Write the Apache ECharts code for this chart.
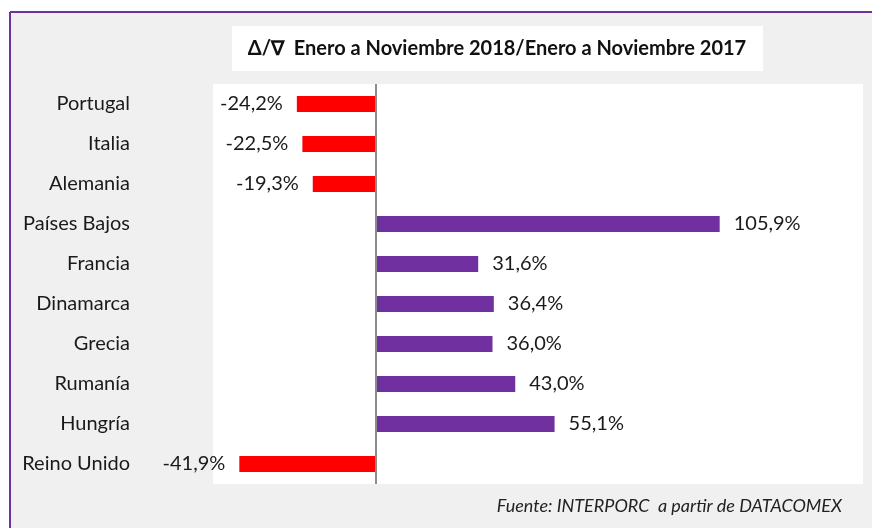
<!DOCTYPE html>
<html>
<head>
<meta charset="utf-8">
<script src="https://cdn.jsdelivr.net/npm/echarts@6/dist/echarts.min.js"></script>
<style>
  html, body { margin: 0; padding: 0; background: #ffffff; }
  #chart { width: 872px; height: 528px; }
</style>
</head>
<body>
<div id="chart"></div>
<script>
// Variación interanual por país (%)
const countries = ['Portugal', 'Italia', 'Alemania', 'Países Bajos', 'Francia',
                   'Dinamarca', 'Grecia', 'Rumanía', 'Hungría', 'Reino Unido'];
const changes = [-24.2, -22.5, -19.3, 105.9, 31.6, 36.4, 36.0, 43.0, 55.1, -41.9];
const titleText = 'Δ/∇  Enero a Noviembre 2018/Enero a Noviembre 2017';
const sourceText = 'Fuente: INTERPORC  a partir de DATACOMEX';

const RED = '#ff0000';
const PURPLE = '#7030a0';
const FONT = 'Lato, "Open Sans", sans-serif';

const fmt = v => v.toFixed(1).replace('.', ',') + '%';

const chart = echarts.init(document.getElementById('chart'));

chart.setOption({
  backgroundColor: '#ffffff',
  animation: false,
  graphic: [
    // panel background with purple frame
    { type: 'rect', z: -10, shape: { x: 11, y: 13, width: 880, height: 540 },
      style: { fill: '#f0f0f0', stroke: null } },
    { type: 'line', z: -9, shape: { x1: 10, y1: 12, x2: 872, y2: 12 },
      style: { stroke: PURPLE, lineWidth: 2 } },
    { type: 'line', z: -9, shape: { x1: 10, y1: 12, x2: 10, y2: 528 },
      style: { stroke: PURPLE, lineWidth: 2 } },
    // title box
    { type: 'rect', z: -8, shape: { x: 232, y: 26, width: 531, height: 45 },
      style: { fill: '#ffffff', stroke: null } },
    { type: 'text', z: 10, x: 497, y: 49,
      style: { text: titleText, align: 'center', verticalAlign: 'middle',
               font: 'bold 20px ' + FONT, fill: '#111' } },
    // source note
    { type: 'text', z: 10, x: 842, y: 506,
      style: { text: sourceText, align: 'right', verticalAlign: 'middle',
               font: 'italic 18px ' + FONT, fill: '#222' } }
  ],
  grid: {
    left: 213, right: 9, top: 84, height: 400,
    show: true, backgroundColor: '#ffffff', borderWidth: 0
  },
  xAxis: {
    type: 'value', min: -50, max: 150,
    show: false
  },
  yAxis: {
    type: 'category', data: countries, inverse: true,
    axisLine: { show: false, onZero: false },
    axisTick: { show: false },
    axisLabel: { margin: 83, color: '#1a1a1a', fontSize: 20, fontFamily: FONT }
  },
  series: [{
    type: 'bar',
    barWidth: 16,
    data: changes.map(v => ({
      value: v,
      itemStyle: { color: v < 0 ? RED : PURPLE },
      label: { position: v < 0 ? 'left' : 'right' }
    })),
    label: {
      show: true, distance: 14, color: '#1a1a1a', fontSize: 20, fontFamily: FONT,
      formatter: p => fmt(p.value)
    },
    markLine: {
      silent: true, symbol: 'none', label: { show: false },
      lineStyle: { color: '#8c8c8c', width: 2, type: 'solid' },
      data: [{ xAxis: 0 }]
    }
  }]
});
</script>
</body>
</html>
